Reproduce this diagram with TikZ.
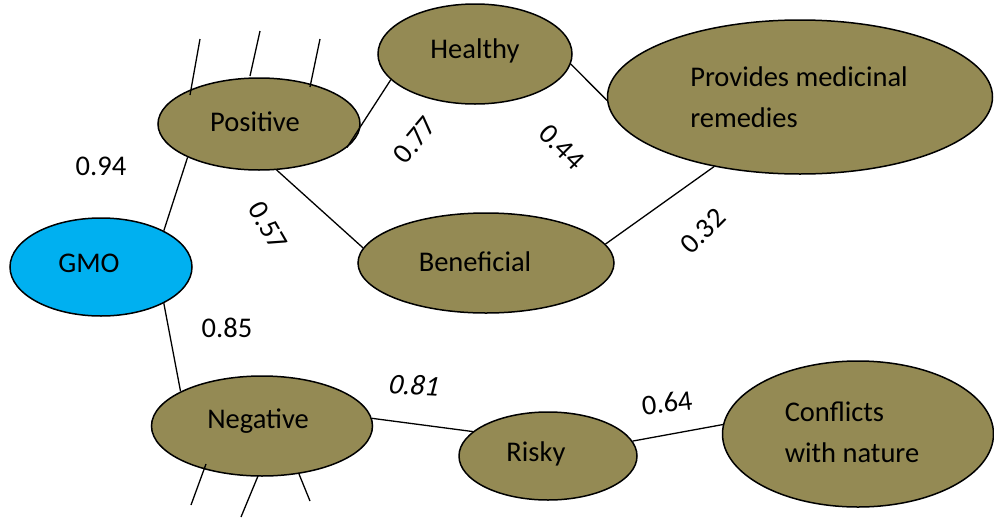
\documentclass[tikz,border=0pt]{standalone}
\usepackage{fontspec}
\setmainfont{Carlito}
\usetikzlibrary{shapes.geometric}
\definecolor{olive}{HTML}{948A54}
\definecolor{gmoblue}{HTML}{00B0F0}
\begin{document}
\begin{tikzpicture}[x=1pt,y=-1pt,
  every node/.style={font=\fontsize{28.5}{41}\selectfont},
  oval/.style={ellipse,draw=black,line width=1.5pt,fill=olive,inner sep=0pt},
  link/.style={draw=black,line width=1.3pt},
  wt/.style={inner sep=0pt}]
\useasboundingbox (0,0) rectangle (994,520);
% ellipses
\node[oval,fill=gmoblue,minimum width=182pt,minimum height=98pt,
  label={[xshift=-12pt,yshift=4pt]center:GMO}] (gmo) at (101,267) {};
\node[oval,minimum width=202pt,minimum height=92pt,
  label={[xshift=-4pt,yshift=2pt]center:Positive}] (pos) at (259,124) {};
\node[oval,minimum width=194pt,minimum height=100pt,
  label={[yshift=3pt]center:Healthy}] (hea) at (475,54) {};
\node[oval,minimum width=385pt,minimum height=154pt,
  label={[xshift=-1pt,yshift=0pt,align=left]center:Provides medicinal\\remedies}] (pro) at (800,97) {};
\node[oval,minimum width=256pt,minimum height=100pt,
  label={[xshift=-11pt,yshift=1pt]center:Beneficial}] (ben) at (486,263) {};
\node[oval,minimum width=221pt,minimum height=100pt,
  label={[xshift=-4pt,yshift=5pt]center:Negative}] (neg) at (262,426) {};
\node[oval,minimum width=178pt,minimum height=88pt,
  label={[xshift=-12pt,yshift=2pt]center:Risky}] (ris) at (548,456) {};
\node[oval,minimum width=271pt,minimum height=146pt,
  label={[xshift=-6pt,yshift=2pt,align=left]center:Conflicts\\with nature}] (con) at (858,434) {};
% connectors
\draw[link] (gmo.30) -- (pos.205);
\draw[link] (gmo.-30) -- (neg.157);
\draw[link] (pos.-15) -- (hea.197);
\draw[link] (pos.-69) -- (ben.173);
\draw[link] (hea.-6) -- (pro.181);
\draw[link] (ben.9) -- (pro.219);
\draw[link] (neg.4) -- (ris.162);
\draw[link] (ris.10) -- (con.176);
% stray ticks
\draw[link] (200,39) -- (190,95);
\draw[link] (260,31) -- (250,76);
\draw[link] (320,39) -- (310,87);
\draw[link] (206,464) -- (191,505);
\draw[link] (258,476) -- (241,517);
\draw[link] (299,474) -- (310,501);
% weights
\node[wt] (w94) at (101,166) {0.94};
\node[wt] (w85) at (227,328) {0.85};
\node[wt,rotate=-60] (w57) at (268,226) {0.57};
\node[wt,rotate=50] (w77) at (415,140) {0.77};
\node[wt,rotate=-45] (w44) at (562,147) {0.44};
\node[wt,rotate=45] (w32) at (703,231) {0.32};
\node[wt,xslant=0.2,rotate=-3] (w81) at (415,385) {0.81};
\node[wt,rotate=7] (w64) at (667,403) {0.64};
\end{tikzpicture}
\end{document}
